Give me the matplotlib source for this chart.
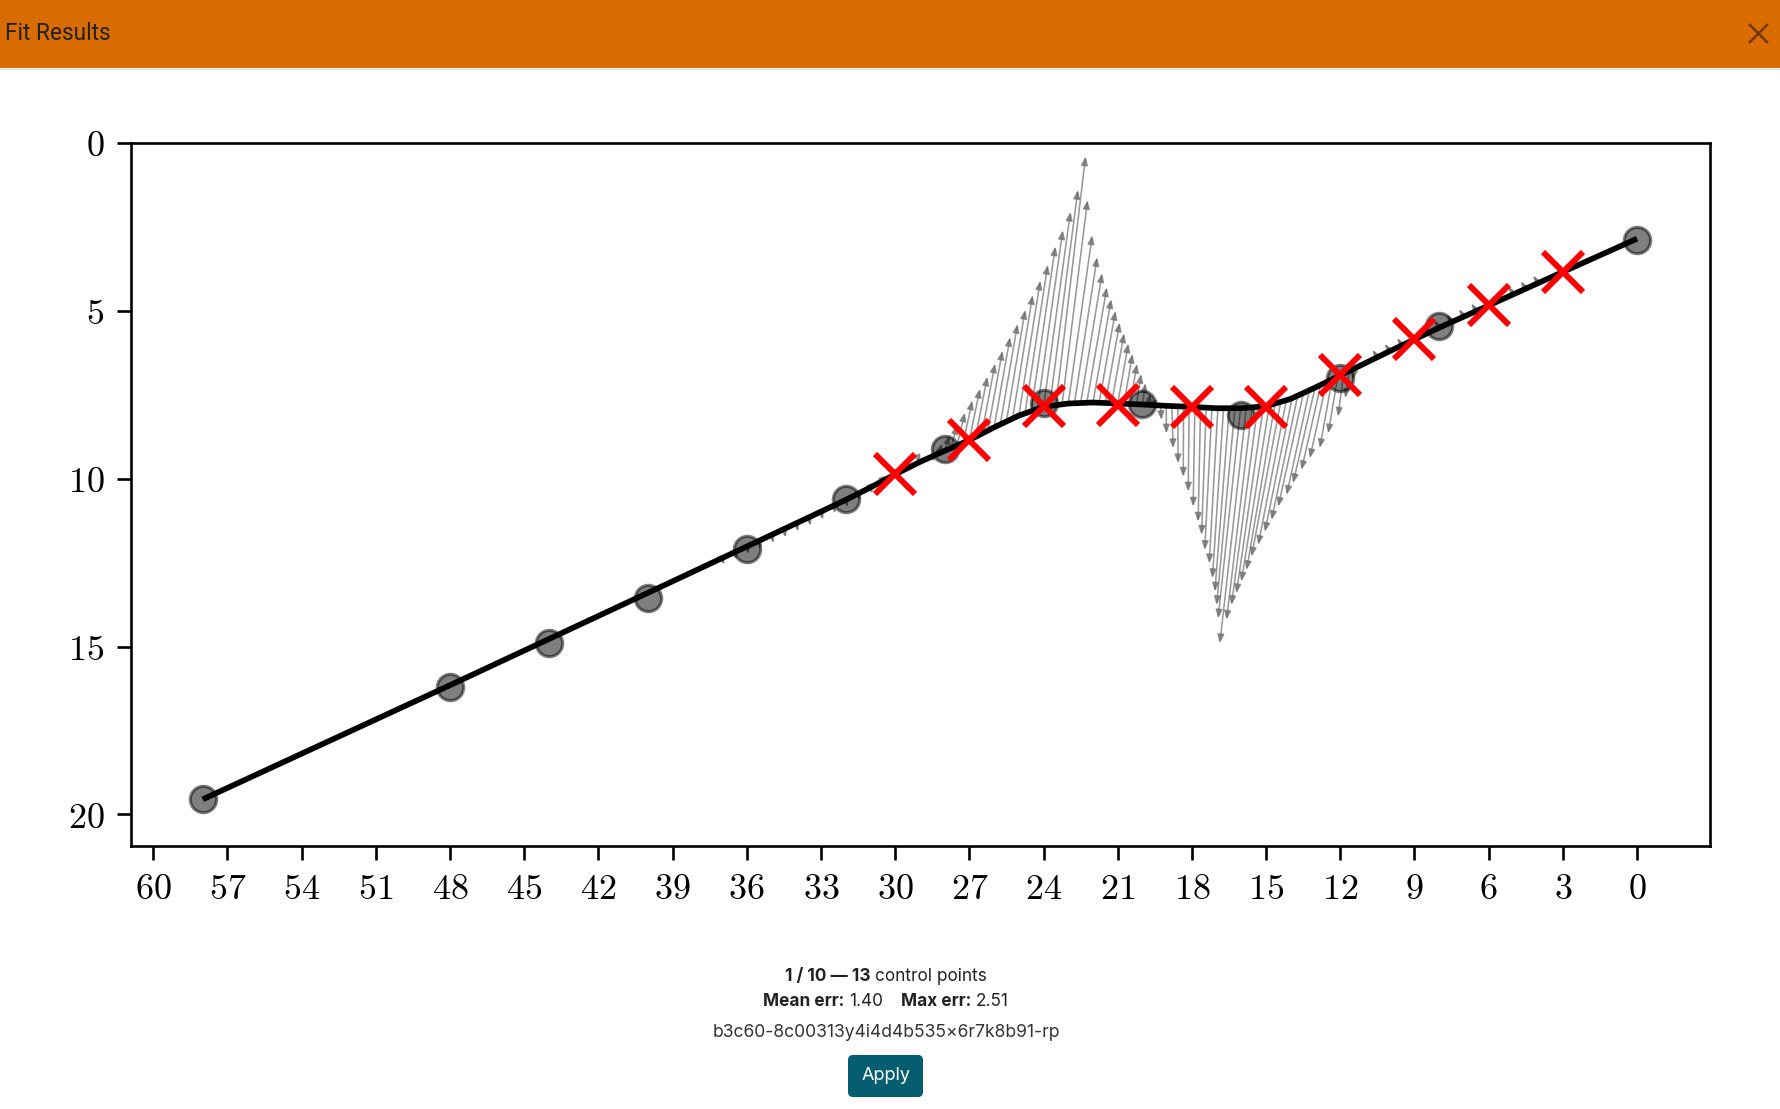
import matplotlib
matplotlib.use('Agg')
import matplotlib.pyplot as plt
from matplotlib.patches import Rectangle, FancyBboxPatch
from matplotlib.lines import Line2D
from matplotlib.transforms import IdentityTransform
from matplotlib.ticker import FixedLocator, FuncFormatter

W, H = 1781, 1109
plt.rcParams['mathtext.fontset'] = 'cm'

# spline control points (grey circles)
ctrl_x = [58, 48, 44, 40, 36, 32, 28, 24, 20, 16, 12, 8, 0]
ctrl_y = [19.55, 16.2, 14.9, 13.55, 12.1, 10.6, 9.1, 7.75, 7.78, 8.1, 7.0, 5.45, 2.88]

# fitted curve
fit_x = [58, 48, 40, 36, 33, 32, 31, 30, 29, 28, 27, 26, 25, 24, 23, 22, 21, 20,
         19, 18, 17, 16, 15, 14, 13, 12, 11, 10, 9, 8, 6, 3, 0]
fit_y = [19.55, 16.15, 13.4, 12.02, 10.98, 10.63, 10.26, 9.87, 9.5, 9.17, 8.85, 8.47,
         8.12, 7.86, 7.76, 7.73, 7.76, 7.79, 7.83, 7.86, 7.9, 7.9, 7.84, 7.62, 7.28,
         6.92, 6.56, 6.2, 5.85, 5.5, 4.84, 3.84, 2.85]

# evaluation points (red crosses)
eval_x = [30, 27, 24, 21, 18, 15, 12, 9, 6, 3]
eval_y = [9.87, 8.85, 7.84, 7.8, 7.86, 7.85, 6.92, 5.85, 4.84, 3.84]

# residual arrows, upper spike
up_tail_x = [28.5, 28.25, 28.0, 27.75, 27.5, 27.25, 27.0, 26.75, 26.5, 26.25, 26.0, 25.75,
             25.5, 25.25, 25.0, 24.75, 24.5, 24.25, 24.0, 23.75, 23.5,
             23.25, 23.0, 22.75, 22.5, 22.25, 22.0, 21.75, 21.5, 21.25, 21.0, 20.75,
             20.5, 20.25, 20.0, 19.75]
up_tail_y = [9.33, 9.25, 9.17, 9.09, 9.01, 8.93, 8.85, 8.75, 8.66, 8.56, 8.47, 8.38,
             8.29, 8.2, 8.12, 8.05, 7.98, 7.92, 7.86, 7.83, 7.81,
             7.78, 7.76, 7.75, 7.74, 7.73, 7.73, 7.73, 7.74, 7.75, 7.76, 7.77,
             7.78, 7.78, 7.79, 7.8]
up_head_x = [28.4, 28.1, 27.79, 27.49, 27.18, 26.88, 26.57, 26.27, 25.96, 25.66, 25.35, 25.05,
             24.74, 24.44, 24.13, 23.83, 23.52, 23.22, 22.91, 22.61, 22.3,
             22.22, 22.03, 21.83, 21.63, 21.44, 21.26, 21.09, 20.92, 20.74, 20.57, 20.4,
             20.22, 20.05, 19.88, 19.7]
up_head_y = [9.15, 8.95, 8.7, 8.4, 8.03, 7.67, 7.32, 6.96, 6.57, 6.19, 5.78, 5.39,
             4.97, 4.53, 4.1, 3.63, 3.08, 2.6, 2.05, 1.4, 0.4,
             1.7, 2.75, 3.4, 3.88, 4.3, 4.65, 5.0, 5.35, 5.67, 5.97, 6.28,
             6.58, 6.88, 7.15, 7.45]

# residual arrows, lower spike
low_tail_x = [19.5, 19.27, 19.04, 18.81, 18.57, 18.34, 18.11, 17.88, 17.65, 17.42, 17.19, 16.95,
              16.72, 16.49, 16.26, 16.03, 15.8, 15.57, 15.34, 15.11, 14.87, 14.64, 14.41, 14.18,
              13.95, 13.72, 13.49, 13.25, 13.02, 12.79, 12.56, 12.33, 12.1, 11.87, 11.64, 11.4]
low_tail_y = [7.81, 7.82, 7.83, 7.84, 7.85, 7.85, 7.86, 7.86, 7.87, 7.88, 7.89, 7.9,
              7.9, 7.9, 7.9, 7.9, 7.89, 7.88, 7.86, 7.85, 7.81, 7.76, 7.71, 7.66,
              7.6, 7.52, 7.45, 7.37, 7.29, 7.2, 7.12, 7.04, 6.96, 6.87, 6.79, 6.7]
low_head_x = [19.45, 19.23, 19.03, 18.76, 18.56, 18.35, 18.15, 17.95, 17.75, 17.61, 17.48, 17.3,
              17.17, 17.07, 17.0, 16.94, 16.87, 16.6, 16.4, 16.2, 16.0, 15.79, 15.59, 15.32,
              15.05, 14.78, 14.51, 14.17, 13.91, 13.57, 13.23, 12.83, 12.49, 12.09, 11.8, 11.5]
low_head_y = [7.95, 8.25, 8.65, 9.09, 9.54, 9.94, 10.38, 10.83, 11.28, 11.67, 12.12, 12.52,
              12.96, 13.36, 13.76, 14.16, 14.9, 14.2, 13.76, 13.41, 13.06, 12.72, 12.32, 11.97,
              11.58, 11.23, 10.83, 10.48, 10.13, 9.74, 9.39, 9.09, 8.65, 8.15, 7.6, 7.05]

# small residuals along the straight parts
small_tail_x = [37, 36.5, 36, 35.5, 35, 34.5, 34, 33.5, 33, 32.5, 32, 31.5, 31, 30.5, 30, 29.5, 29,
                10.5, 10, 9.5, 9, 8.5, 8, 7.5, 7, 6.5, 6, 5.5, 5, 4.5, 4]
small_tail_y = [12.36, 12.19, 12.02, 11.85, 11.68, 11.51, 11.33, 11.16, 10.98, 10.8, 10.63, 10.45,
                10.26, 10.07, 9.87, 9.68, 9.5,
                6.38, 6.2, 6.03, 5.85, 5.67, 5.5, 5.33, 5.17, 5.0, 4.84, 4.67, 4.5, 4.34, 4.17]
small_head_x = [36.92, 36.42, 35.92, 35.42, 34.92, 34.42, 33.92, 33.42, 32.92, 32.42, 31.92, 31.42,
                30.92, 30.42, 29.92, 29.45, 28.97,
                10.7, 10.2, 9.7, 9.2, 8.7, 8.2, 7.7, 7.2, 6.7, 6.2, 5.7, 5.2, 4.7, 4.2]
small_head_y = [12.56, 12.4, 12.24, 12.08, 11.92, 11.75, 11.57, 11.4, 11.22, 11.03, 10.85, 10.65,
                10.44, 10.22, 10.0, 9.77, 9.55,
                6.16, 5.98, 5.81, 5.63, 5.45, 5.28, 5.11, 4.95, 4.78, 4.62, 4.45, 4.28, 4.12, 3.95]

x_ticks = [60, 57, 54, 51, 48, 45, 42, 39, 36, 33, 30, 27, 24, 21, 18, 15, 12, 9, 6, 3, 0]
y_ticks = [0, 5, 10, 15, 20]

title = 'Fit Results'
info_line1 = [('1 / 10 \u2014 13', 'bold'), ('control points', 'normal')]
info_line2 = [('Mean err:', 'bold'), ('1.40', 'normal'), ('Max err:', 'bold'), ('2.51', 'normal')]
run_id = 'b3c60-8c00313y4i4d4b535\u00d76r7k8b91-rp'
button_label = 'Apply'

fig = plt.figure(figsize=(W / 100, H / 100), dpi=100, facecolor='white')


def fx(x):
    return x / W


def fy(y):
    return 1 - y / H


# header bar
fig.add_artist(Rectangle((0, fy(68)), 1, 68 / H, transform=fig.transFigure,
                         facecolor='#d96c00', edgecolor='none', zorder=0))
fig.add_artist(Line2D([0, 1], [fy(68.5), fy(68.5)], transform=fig.transFigure,
                      color='#e2e2e2', lw=1))
fig.text(fx(5), fy(33), title, fontsize=16.3, family='Roboto', color='#222222',
         ha='left', va='center')
for a, b in (((1750, 25), (1767, 42)), ((1750, 42), (1767, 25))):
    fig.add_artist(Line2D([fx(a[0]), fx(b[0])], [fy(a[1]), fy(b[1])],
                          transform=fig.transFigure, color='#6e3800', lw=1.8))

ax = fig.add_axes([fx(131), fy(846), fx(1710) - fx(131), fy(143) - fy(846)])
ax.set_xlim(60.9, -2.95)
ax.set_ylim(20.94, 0)

tails_x = up_tail_x + low_tail_x + small_tail_x
tails_y = up_tail_y + low_tail_y + small_tail_y
heads_x = up_head_x + low_head_x + small_head_x
heads_y = up_head_y + low_head_y + small_head_y
for x0, y0, x1, y1 in zip(tails_x, tails_y, heads_x, heads_y):
    ax.annotate('', xy=(x1, y1), xytext=(x0, y0),
                arrowprops=dict(arrowstyle='-|>,head_length=0.5,head_width=0.2',
                                mutation_scale=10, color='#6e6e6e', alpha=0.7, lw=1.15,
                                shrinkA=0, shrinkB=0), zorder=2)

ax.plot(fit_x, fit_y, color='black', lw=4.1, solid_capstyle='butt',
        solid_joinstyle='round', zorder=3)
ax.scatter(ctrl_x, ctrl_y, s=360, c='black', alpha=0.5, edgecolors='black',
           linewidths=2.3, zorder=4)
ax.plot(eval_x, eval_y, ls='none', marker='x', ms=29, mew=4.3, color='red', zorder=5)

for s in ax.spines.values():
    s.set_linewidth(1.9)
ax.xaxis.set_major_locator(FixedLocator(x_ticks))
ax.yaxis.set_major_locator(FixedLocator(y_ticks))
fmt = FuncFormatter(lambda v, p: f'${v:g}$')
ax.xaxis.set_major_formatter(fmt)
ax.yaxis.set_major_formatter(fmt)
ax.tick_params(length=10, width=1.9, labelsize=26, pad=9, top=False, right=False)

# summary lines under the chart
renderer = fig.canvas.get_renderer()
CX = 886


def rich_line(parts, y, size, gaps):
    arts, widths = [], []
    for s, wgt in parts:
        t = fig.text(0, fy(y), s, fontsize=size, fontweight=wgt, family='Inter',
                     color='#222222', ha='left', va='baseline')
        arts.append(t)
        widths.append(t.get_window_extent(renderer).width)
    total = sum(widths) + sum(gaps)
    x = CX - total / 2
    for t, w, g in zip(arts, widths, [0] + gaps):
        x += g
        t.set_x(fx(x))
        x += w


sp = 4.8
rich_line(info_line1, 981, 12.4, [sp])
rich_line(info_line2, 1006, 12.4, [sp, 3.6 * sp, sp])
fig.text(fx(CX), fy(1037), run_id, fontsize=12.6, family='Inter', color='#333333',
         ha='center', va='baseline')

fig.add_artist(FancyBboxPatch((848, H - 1097), 75, 42, boxstyle='round,pad=0,rounding_size=5',
                              transform=IdentityTransform(), facecolor='#055e6f',
                              edgecolor='none'))
fig.text(fx(886), fy(1076), button_label, fontsize=13, family='Inter', color='white',
         ha='center', va='center')

fig.savefig('out.png', dpi=100, facecolor='white')
